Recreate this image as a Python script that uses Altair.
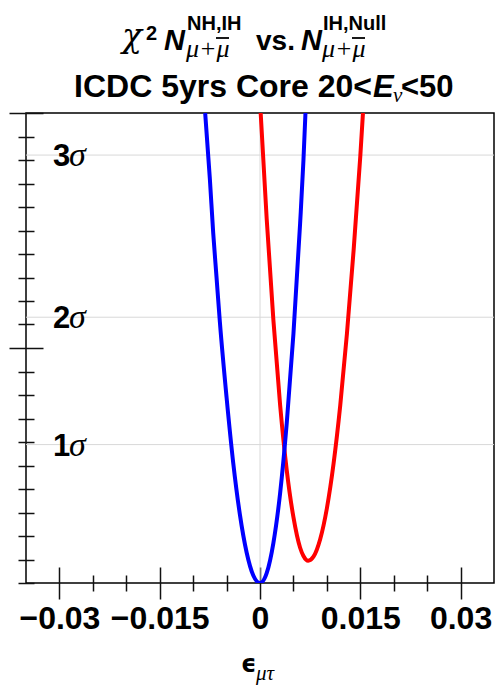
import altair as alt
import pandas as pd

# ---------------- data ----------------
# blue curve: chi2 N^{NH,IH} (vs. epsilon_mu_tau)
blue_eps = [-0.0082, -0.0075, -0.007, -0.0065, -0.006, -0.005, -0.004, -0.003,
            -0.002, -0.001, 0.0, 0.001, 0.002, 0.003, 0.004, 0.005, 0.006,
            0.0065, 0.0068]
blue_chi2 = [20.0, 17.2, 14.9, 13.0, 11.1, 7.9, 5.1, 2.9, 1.3, 0.32, 0.0,
             0.42, 1.7, 3.8, 6.8, 10.6, 15.3, 18.0, 20.0]

# red curve: N^{IH,Null}
red_eps = [0.0001, 0.001, 0.002, 0.003, 0.004, 0.005, 0.006, 0.0065, 0.0072,
           0.008, 0.009, 0.010, 0.011, 0.012, 0.013, 0.014, 0.015, 0.0154]
red_chi2 = [20.0, 15.5, 11.2, 7.6, 4.8, 2.8, 1.5, 1.15, 0.95, 1.12, 1.86,
            3.17, 5.07, 7.55, 10.6, 14.15, 18.15, 20.0]

# sigma levels (chi2 values) and their labels
sigma_labels = ["1", "2", "3"]
sigma_chi2 = [5.89, 11.31, 18.21]

# ticks
x_major = [-0.03, -0.015, 0.0, 0.015, 0.03]
x_minor = [-0.025, -0.02, -0.01, -0.005, 0.005, 0.01, 0.02, 0.025]
y_major = [10, 20]
y_minor = [0, 1, 2, 3, 4, 5, 6, 7, 8, 9, 11, 12, 13, 14, 15, 16, 17, 18, 19]
x_zero = [0.0]

# texts
t_chi = "\u03c7"
t_two = "2"
t_N = "N"
t_sup1 = "NH,IH"
t_sup2 = "IH,Null"
t_sub = "\u03bc+\u03bc"
t_vs = "vs."
t_line2a = "ICDC 5yrs Core 20<"
t_line2E = "E"
t_line2nu = "\u03bd"
t_line2b = "<50"
t_eps = "\u03f5"
t_eps_sub = "\u03bc\u03c4"
t_sigma = "\u03c3"

# ---------------- chart ----------------
W, H = 468, 470
L, T = 26, 113

blue_df = pd.DataFrame({"eps": blue_eps, "chi2": blue_chi2})
red_df = pd.DataFrame({"eps": red_eps, "chi2": red_chi2})
sigma_df = pd.DataFrame({"lbl": sigma_labels, "chi2": sigma_chi2})
zero_df = pd.DataFrame({"eps": x_zero})

xscale = alt.Scale(domain=[-0.035, 0.035], nice=False, zero=False)
yscale = alt.Scale(domain=[0, 20], nice=False, zero=False)

tick_common = dict(domain=False, grid=False, title=None, tickColor="#111111",
                   tickWidth=1.5)

grid_h = alt.Chart(sigma_df).mark_rule(color="#d8d8d8", strokeWidth=1).encode(
    y=alt.Y("chi2:Q", scale=yscale,
            axis=alt.Axis(orient="left", values=y_major, offset=-17,
                          tickSize=34, labels=False, **tick_common))
)

grid_v = alt.Chart(zero_df).mark_rule(color="#d8d8d8", strokeWidth=1).encode(
    x=alt.X("eps:Q", scale=xscale,
            axis=alt.Axis(orient="bottom", values=x_major, offset=-16,
                          tickSize=32, labels=True, format=".3~f",
                          labelFont="Liberation Sans", labelFontWeight="bold",
                          labelFontSize=32, labelColor="black",
                          labelPadding=4, labelFlush=False,
                          labelOverlap=False, labelBound=False,
                          **tick_common))
)

red_line = alt.Chart(red_df).mark_line(
    color="#ff0000", strokeWidth=4, interpolate="monotone", clip=True
).encode(
    x=alt.X("eps:Q", scale=xscale,
            axis=alt.Axis(orient="bottom", values=x_minor, offset=-8,
                          tickSize=16, labels=False, **tick_common)),
    y=alt.Y("chi2:Q", scale=yscale,
            axis=alt.Axis(orient="left", values=y_minor, offset=-8,
                          tickSize=16, labels=False, **tick_common)),
    order="eps:Q",
)

blue_line = alt.Chart(blue_df).mark_line(
    color="#0000ff", strokeWidth=4, interpolate="monotone", clip=True
).encode(
    x=alt.X("eps:Q", scale=xscale, axis=None),
    y=alt.Y("chi2:Q", scale=yscale, axis=None),
    order="eps:Q",
)

sig_num = alt.Chart(sigma_df).mark_text(
    align="left", baseline="alphabetic", dy=11, font="Liberation Sans",
    fontWeight="bold", fontSize=31, color="black"
).encode(
    x=alt.value(53 - L),
    y=alt.Y("chi2:Q", scale=yscale, axis=None),
    text="lbl:N",
)

sig_sym = alt.Chart(sigma_df).mark_text(
    align="left", baseline="alphabetic", dy=11, font="Liberation Serif",
    fontStyle="italic", fontSize=34, color="black", text=t_sigma
).encode(
    x=alt.value(69 - L),
    y=alt.Y("chi2:Q", scale=yscale, axis=None),
)


def txt(s, x, y, size, font="Liberation Sans", weight="bold",
        style="normal", align="left"):
    return alt.Chart(alt.Data(values=[{"t": s}])).mark_text(
        align=align, baseline="alphabetic", font=font, fontSize=size,
        fontWeight=weight, fontStyle=style, color="black"
    ).encode(x=alt.value(x - L), y=alt.value(y - T), text="t:N")


def bar(x1, x2, y):
    # the macron (anti-particle bar) over mu
    return alt.Chart(alt.Data(values=[{}])).mark_rule(
        color="black", strokeWidth=1.8
    ).encode(x=alt.value(x1 - L), x2=alt.value(x2 - L), y=alt.value(y - T))


serif = "DejaVu Serif"
texts = [
    # title line 1
    txt(t_chi, 122, 47, 33, font=serif, weight="normal", style="italic"),
    txt(t_two, 146, 40, 20),
    txt(t_N, 164, 50, 29, style="italic"),
    txt(t_sup1, 187, 30, 20),
    txt(t_sub, 186, 57, 26, font="Liberation Serif", weight="normal", style="italic"),
    bar(216, 229, 38),
    txt(t_vs, 256, 50, 28),
    txt(t_N, 301, 50, 29, style="italic"),
    txt(t_sup2, 323, 30, 20),
    txt(t_sub, 322, 57, 26, font="Liberation Serif", weight="normal", style="italic"),
    bar(352, 365, 38),
    # title line 2
    txt(t_line2a, 372, 97, 32, align="right"),
    txt(t_line2E, 373, 97, 31, style="italic"),
    txt(t_line2nu, 393, 102, 21, font="Liberation Serif", weight="normal", style="italic"),
    txt(t_line2b, 401, 97, 31),
    # x axis title
    txt(t_eps, 241, 672, 24, font="DejaVu Sans"),
    txt(t_eps_sub, 256, 680, 21, font="Liberation Serif", weight="normal", style="italic"),
]

chart = alt.layer(
    grid_h, grid_v, red_line, blue_line, sig_num, sig_sym, *texts
).resolve_axis(
    x="independent", y="independent"
).properties(
    width=W, height=H,
    padding={"left": L, "top": T, "right": 495 - L - W, "bottom": 686 - T - H},
    autosize=alt.AutoSizeParams(type="none"),
    background="white",
).configure_view(
    stroke="black", strokeWidth=1.5
)

chart.save("out.html", embed_options={"renderer": "svg", "actions": False})
